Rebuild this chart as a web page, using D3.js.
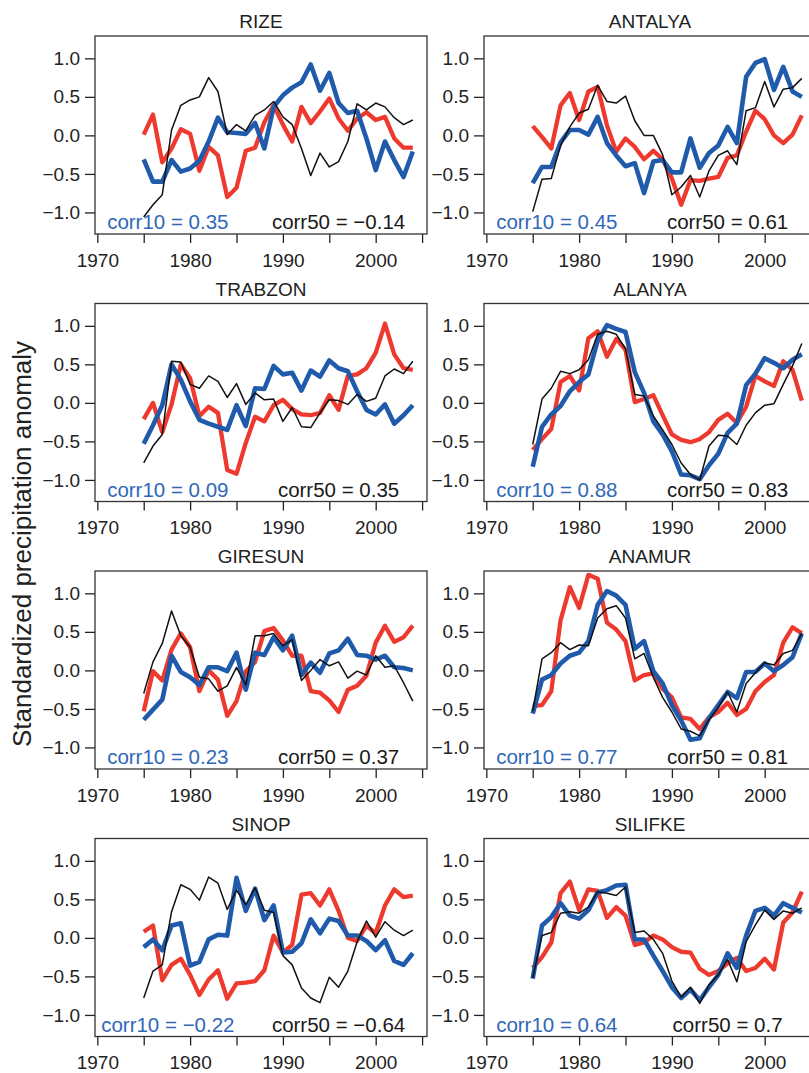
<!DOCTYPE html>
<html><head><meta charset="utf-8">
<script src="https://cdn.jsdelivr.net/npm/d3@7/dist/d3.min.js"></script>
<style>
body{margin:0;background:#fff;overflow:hidden;}
svg{display:block;}
text{font-family:"Liberation Sans",Arial,Helvetica,sans-serif;fill:#222;}
</style>
</head><body>
<svg id="chart" width="809" height="1073"></svg>
<script>
// ---------------- DATA ----------------
const years = [1975,1976,1977,1978,1979,1980,1981,1982,1983,1984,1985,1986,1987,1988,1989,
               1990,1991,1992,1993,1994,1995,1996,1997,1998,1999,2000,2001,2002,2003,2004];
const stations = ["RIZE","ANTALYA","TRABZON","ALANYA","GIRESUN","ANAMUR","SINOP","SILIFKE"];
const corr10 = [0.35, 0.45, 0.09, 0.88, 0.23, 0.77, -0.22, 0.64];
const corr50 = [-0.14, 0.61, 0.35, 0.83, 0.37, 0.81, -0.64, 0.7];
const xTicks = [1970,1975,1980,1985,1990,1995,2000,2005];
const xLabels = [1970,1980,1990,2000];
const yTicks = [-1.0,-0.5,0.0,0.5,1.0];

// observed (red), 10 km model (blue), 50 km model (black)
const RIZE_obs   = [0.01,0.27,-0.35,-0.17,0.08,0.02,-0.46,-0.15,-0.26,-0.8,-0.68,-0.2,-0.16,0.17,0.39,0.14,-0.08,0.37,0.16,0.31,0.48,0.22,0.06,0.22,0.3,0.2,0.24,-0.04,-0.16,-0.16];
const RIZE_r10   = [-0.31,-0.6,-0.6,-0.32,-0.47,-0.43,-0.33,-0.08,0.23,0.04,0.03,0.02,0.16,-0.17,0.37,0.52,0.62,0.69,0.92,0.58,0.81,0.42,0.29,0.32,-0.04,-0.45,-0.08,-0.32,-0.54,-0.21];
const RIZE_r50   = [-1.06,-0.9,-0.77,0.07,0.39,0.46,0.5,0.75,0.57,0.01,0.14,0.06,0.26,0.33,0.44,0.24,0.14,-0.17,-0.52,-0.23,-0.41,-0.34,-0.08,0.41,0.33,0.42,0.37,0.23,0.14,0.2];

const ANTALYA_obs = [0.12,-0.02,-0.17,0.39,0.55,0.2,0.57,0.63,0.13,-0.21,-0.04,-0.15,-0.31,-0.2,-0.31,-0.56,-0.9,-0.58,-0.59,-0.56,-0.54,-0.29,-0.26,0.05,0.32,0.21,0.0,-0.1,0.01,0.26];
const ANTALYA_r10 = [-0.62,-0.41,-0.41,-0.09,0.07,0.07,0.01,0.24,-0.1,-0.26,-0.4,-0.36,-0.75,-0.34,-0.32,-0.48,-0.48,-0.04,-0.42,-0.23,-0.13,0.11,-0.1,0.76,0.94,0.99,0.59,0.89,0.57,0.5];
const ANTALYA_r50 = [-0.99,-0.57,-0.56,-0.13,0.11,0.29,0.34,0.65,0.44,0.42,0.51,0.19,0.0,0.0,-0.25,-0.77,-0.67,-0.52,-0.8,-0.46,-0.26,-0.2,-0.38,0.32,0.36,0.7,0.37,0.6,0.62,0.74];

const TRABZON_obs = [-0.21,0.0,-0.38,-0.02,0.5,0.32,-0.17,-0.05,-0.13,-0.87,-0.92,-0.52,-0.18,-0.24,-0.03,0.04,-0.08,-0.15,-0.16,-0.13,0.1,-0.09,0.35,0.37,0.45,0.65,1.03,0.63,0.45,0.43];
const TRABZON_r10 = [-0.53,-0.29,-0.03,0.5,0.3,0.02,-0.22,-0.27,-0.31,-0.35,-0.03,-0.3,0.19,0.18,0.48,0.37,0.39,0.16,0.42,0.34,0.55,0.45,0.41,0.15,-0.09,-0.15,-0.02,-0.27,-0.16,-0.03];
const TRABZON_r50 = [-0.78,-0.56,-0.41,0.54,0.53,0.24,0.19,0.35,0.28,0.07,0.25,-0.02,0.13,0.04,0.05,-0.24,-0.06,-0.31,-0.32,-0.13,0.04,0.03,-0.02,0.11,0.02,0.06,0.35,0.44,0.38,0.54];

const ALANYA_obs = [-0.61,-0.47,-0.34,0.27,0.35,0.16,0.84,0.93,0.6,0.83,0.69,0.01,0.05,0.1,-0.16,-0.41,-0.48,-0.51,-0.47,-0.38,-0.22,-0.14,-0.26,-0.05,0.35,0.28,0.22,0.54,0.43,0.03];
const ALANYA_r10 = [-0.83,-0.31,-0.15,-0.04,0.15,0.27,0.37,0.81,1.01,0.96,0.92,0.4,0.13,-0.24,-0.41,-0.63,-0.93,-0.94,-0.99,-0.81,-0.66,-0.39,-0.27,0.23,0.38,0.58,0.52,0.45,0.56,0.63];
const ALANYA_r50 = [-0.54,0.05,0.19,0.41,0.38,0.43,0.56,0.89,0.93,0.89,0.7,0.11,0.09,-0.17,-0.35,-0.54,-0.78,-0.93,-1.0,-0.56,-0.42,-0.43,-0.54,-0.29,-0.13,-0.03,-0.01,0.24,0.48,0.77];

const GIRESUN_obs = [-0.53,-0.01,-0.13,0.27,0.48,0.3,-0.27,0.0,-0.12,-0.59,-0.4,-0.01,0.11,0.51,0.55,0.39,0.19,0.19,-0.27,-0.29,-0.39,-0.54,-0.25,-0.2,-0.07,0.36,0.58,0.37,0.43,0.58];
const GIRESUN_r10 = [-0.64,-0.51,-0.38,0.19,-0.02,-0.09,-0.19,0.04,0.04,-0.01,0.23,-0.25,0.23,0.2,0.43,0.26,0.45,-0.06,0.1,-0.03,0.22,0.26,0.41,0.2,0.19,0.14,0.19,0.04,0.03,0.0];
const GIRESUN_r50 = [-0.3,0.11,0.35,0.77,0.45,0.3,-0.09,-0.11,-0.27,-0.2,0.04,-0.19,0.45,0.45,0.48,0.32,0.4,-0.13,0.0,0.14,0.06,0.11,-0.1,-0.01,-0.06,0.19,0.04,0.06,-0.16,-0.4];

const ANAMUR_obs = [-0.46,-0.45,-0.27,0.65,1.08,0.81,1.24,1.19,0.62,0.53,0.38,-0.13,-0.06,-0.04,-0.24,-0.35,-0.61,-0.63,-0.76,-0.61,-0.54,-0.42,-0.58,-0.5,-0.27,-0.15,-0.06,0.36,0.56,0.48];
const ANAMUR_r10 = [-0.56,-0.12,-0.06,0.09,0.19,0.23,0.38,0.85,1.03,0.97,0.85,0.28,0.38,-0.01,-0.17,-0.45,-0.65,-0.9,-0.88,-0.62,-0.45,-0.28,-0.36,-0.02,-0.02,0.09,-0.01,0.07,0.17,0.48];
const ANAMUR_r50 = [-0.53,0.15,0.23,0.36,0.27,0.33,0.32,0.68,0.8,0.84,0.68,0.15,0.22,-0.09,-0.35,-0.54,-0.76,-0.79,-0.85,-0.64,-0.48,-0.28,-0.54,-0.17,-0.03,0.1,0.07,0.22,0.26,0.48];

const SINOP_obs = [0.08,0.16,-0.55,-0.35,-0.27,-0.48,-0.74,-0.54,-0.42,-0.79,-0.59,-0.58,-0.56,-0.42,0.03,-0.19,-0.09,0.56,0.58,0.42,0.63,0.35,0.0,-0.04,0.16,0.06,0.42,0.63,0.53,0.55];
const SINOP_r10 = [-0.12,-0.02,-0.16,0.16,0.19,-0.36,-0.31,-0.02,0.04,0.03,0.78,0.35,0.64,0.23,0.42,-0.19,-0.18,-0.07,0.24,0.06,0.25,0.22,0.03,0.03,-0.04,-0.16,-0.03,-0.3,-0.35,-0.2];
const SINOP_r50 = [-0.78,-0.43,-0.35,0.34,0.69,0.63,0.49,0.79,0.71,0.37,0.62,0.43,0.65,0.36,0.33,-0.23,-0.35,-0.65,-0.78,-0.84,-0.51,-0.64,-0.43,-0.05,0.22,0.01,0.21,0.1,0.03,0.1];

const SILIFKE_obs = [-0.39,-0.25,-0.06,0.58,0.73,0.36,0.63,0.61,0.26,0.4,0.29,-0.09,-0.06,0.03,-0.02,-0.12,-0.18,-0.19,-0.4,-0.48,-0.43,-0.33,-0.26,-0.43,-0.39,-0.27,-0.41,0.2,0.33,0.6];
const SILIFKE_r10 = [-0.53,0.16,0.27,0.45,0.29,0.25,0.36,0.59,0.62,0.68,0.69,-0.02,-0.02,-0.23,-0.43,-0.64,-0.78,-0.67,-0.81,-0.64,-0.48,-0.2,-0.39,0.03,0.35,0.39,0.29,0.45,0.39,0.33];
const SILIFKE_r50 = [-0.52,0.03,0.07,0.32,0.34,0.32,0.4,0.6,0.58,0.55,0.66,0.07,0.09,-0.02,-0.2,-0.56,-0.77,-0.64,-0.85,-0.61,-0.48,-0.28,-0.57,-0.05,0.17,0.36,0.24,0.35,0.32,0.39];

const seriesByStation = {
  RIZE:[RIZE_obs,RIZE_r10,RIZE_r50], ANTALYA:[ANTALYA_obs,ANTALYA_r10,ANTALYA_r50],
  TRABZON:[TRABZON_obs,TRABZON_r10,TRABZON_r50], ALANYA:[ALANYA_obs,ALANYA_r10,ALANYA_r50],
  GIRESUN:[GIRESUN_obs,GIRESUN_r10,GIRESUN_r50], ANAMUR:[ANAMUR_obs,ANAMUR_r10,ANAMUR_r50],
  SINOP:[SINOP_obs,SINOP_r10,SINOP_r50], SILIFKE:[SILIFKE_obs,SILIFKE_r10,SILIFKE_r50]
};

// ---------------- LAYOUT ----------------
const colLeft = [95, 484];
const rowTop = [36, 303.5, 571, 838.5];
const pw = 332, ph = 198;
const RED = "#ee3a2e", BLUE = "#1f5aab", BLUE_TXT = "#2f68b8", BLACK = "#111";
const styles = [
  {color: RED,   width: 4.3},
  {color: BLUE,  width: 4.6},
  {color: BLACK, width: 1.5}
];
const fmt = v => String(v).replace("-", "\u2212");

const svg = d3.select("#chart");

stations.forEach((name, i) => {
  const col = i % 2, row = Math.floor(i / 2);
  const left = colLeft[col], top = rowTop[row];
  const x = d3.scaleLinear().domain([1969.75, 2005.53]).range([left, left + pw]);
  const y = d3.scaleLinear().domain([-1.28, 1.29]).range([top + ph, top]);
  const g = svg.append("g");

  const clipId = "clip" + i;
  svg.append("clipPath").attr("id", clipId).append("rect")
    .attr("x", left).attr("y", top).attr("width", pw).attr("height", ph);

  // axes
  const xAxis = d3.axisBottom(x).tickValues(xTicks)
    .tickFormat(d => xLabels.includes(d) ? String(d) : "")
    .tickSize(9).tickSizeOuter(0).tickPadding(10.5);
  const gx = g.append("g").attr("transform", `translate(0,${top + ph})`).call(xAxis);
  gx.select(".domain").remove();
  gx.selectAll(".tick line").attr("stroke", "#222").attr("stroke-width", 1.3);
  gx.selectAll(".tick text").attr("font-size", 19).attr("fill", "#222")
    .style("font-family", '"Liberation Sans",Arial,sans-serif');

  const yAxis = d3.axisLeft(y).tickValues(yTicks)
    .tickFormat(d => fmt(d.toFixed(1)))
    .tickSize(10).tickSizeOuter(0).tickPadding(5);
  const gy = g.append("g").attr("transform", `translate(${left},0)`).call(yAxis);
  gy.select(".domain").remove();
  gy.selectAll(".tick line").attr("stroke", "#222").attr("stroke-width", 1.3);
  gy.selectAll(".tick text").attr("font-size", 19).attr("fill", "#222")
    .style("font-family", '"Liberation Sans",Arial,sans-serif');

  // lines
  const line = d3.line().x((d, k) => x(years[k])).y(d => y(d));
  const lg = g.append("g").attr("clip-path", `url(#${clipId})`);
  seriesByStation[name].forEach((vals, s) => {
    lg.append("path").datum(vals)
      .attr("d", line)
      .attr("fill", "none")
      .attr("stroke", styles[s].color)
      .attr("stroke-width", styles[s].width)
      .attr("stroke-linejoin", "round")
      .attr("stroke-linecap", "butt");
  });

  // frame
  g.append("rect").attr("x", left).attr("y", top).attr("width", pw).attr("height", ph)
    .attr("fill", "none").attr("stroke", "#333").attr("stroke-width", 1.3);

  // title
  g.append("text").attr("x", left + pw / 2).attr("y", top - 8)
    .attr("text-anchor", "middle").attr("font-size", 19).text(name);

  // correlations
  g.append("text").attr("x", x(1977.6)).attr("y", y(-1.22))
    .attr("text-anchor", "middle").attr("font-size", 20.5)
    .style("fill", BLUE_TXT).text(`corr10 = ${fmt(corr10[i])}`);
  g.append("text").attr("x", x(1996)).attr("y", y(-1.22))
    .attr("text-anchor", "middle").attr("font-size", 20.5)
    .style("fill", "#1a1a1a").text(`corr50 = ${fmt(corr50[i])}`);
});

// y-axis title
svg.append("text")
  .attr("transform", "translate(31,544) rotate(-90)")
  .attr("text-anchor", "middle").attr("font-size", 26)
  .text("Standardized precipitation anomaly");
</script>
</body></html>
